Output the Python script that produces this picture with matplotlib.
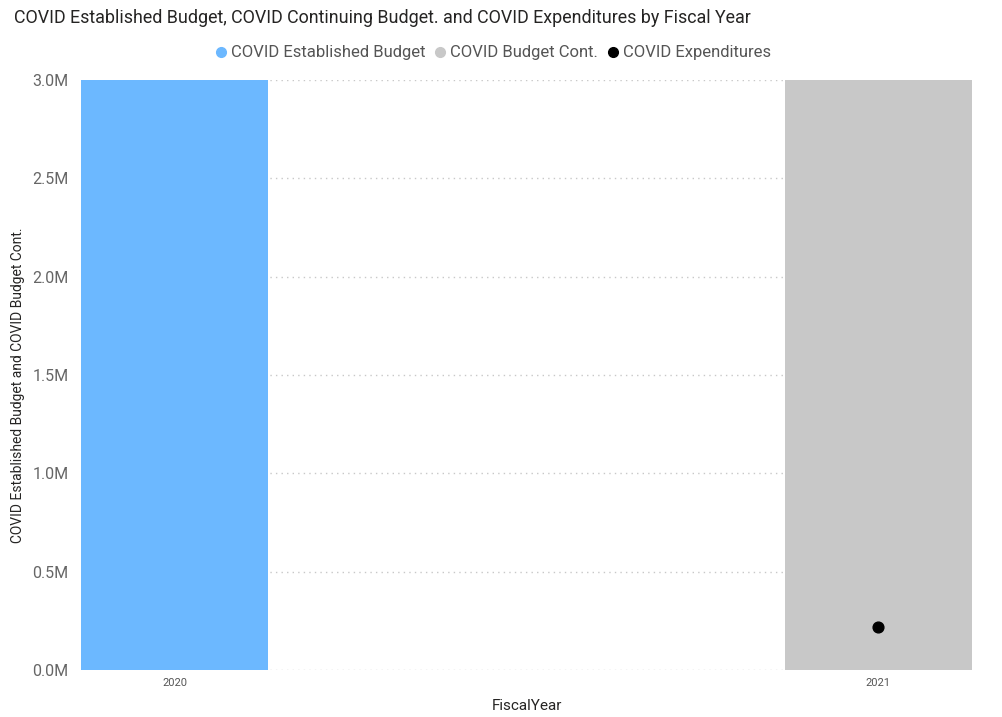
import matplotlib
matplotlib.use("Agg")
import matplotlib.pyplot as plt
from matplotlib.lines import Line2D
from matplotlib.ticker import FuncFormatter

years = ["2020", "2021"]
established_budget = [3.0e6, 0.0]
budget_cont = [0.0, 3.0e6]
expenditures = [None, 0.22e6]

plt.rcParams['font.family'] = ['Roboto', 'DejaVu Sans']

fig = plt.figure(figsize=(10.02, 7.17), dpi=100)
W, H = 1002, 717
ax = fig.add_axes([81 / W, (H - 670) / H, (972 - 81) / W, (670 - 80) / H])

x = list(range(len(years)))
bw = 0.266
ax.bar(x, established_budget, width=bw, color="#6CB8FF", zorder=2)
ax.bar(x, budget_cont, width=bw, color="#C8C8C8", zorder=2)
ex_x = [i for i, v in enumerate(expenditures) if v is not None]
ex_y = [v for v in expenditures if v is not None]
ax.scatter(ex_x, ex_y, s=60, color="black", zorder=3)

ax.set_xlim(-bw / 2, len(years) - 1 + bw / 2)
ax.set_ylim(0, 3.0e6)
ax.set_yticks([0, 0.5e6, 1.0e6, 1.5e6, 2.0e6, 2.5e6, 3.0e6])
ax.yaxis.set_major_formatter(FuncFormatter(lambda v, p: f"{v/1e6:.1f}M"))
ax.set_xticks(x)
ax.set_xticklabels(years)
ax.grid(axis="y", linestyle=(0, (1, 3)), color="#C8C8C8", linewidth=1, zorder=1)
for s in ax.spines.values():
    s.set_visible(False)
ax.tick_params(axis="y", length=0, labelsize=11.5, labelcolor="#666666", pad=9)
ax.tick_params(axis="x", length=0, labelsize=8, labelcolor="#555555", pad=6)

ax.set_xlabel("FiscalYear", fontsize=11, color="#252423", labelpad=8)
fig.text(18 / W, (H - 385) / H, "COVID Established Budget and COVID Budget Cont.",
         rotation=90, va="center", ha="center", fontsize=10, color="#252423")

fig.text(14 / W, 1 - 18 / H, "COVID Established Budget, COVID Continuing Budget. and COVID Expenditures by Fiscal Year",
         fontsize=12.9, color="#252423", va="center", ha="left")

handles = [
    Line2D([], [], marker="o", linestyle="", color="#6CB8FF", markersize=7),
    Line2D([], [], marker="o", linestyle="", color="#C8C8C8", markersize=7),
    Line2D([], [], marker="o", linestyle="", color="black", markersize=7),
]
labels = ["COVID Established Budget", "COVID Budget Cont.", "COVID Expenditures"]
leg = fig.legend(handles, labels, loc="center", bbox_to_anchor=(492 / W, 1 - 53 / H),
                 ncol=3, frameon=False, fontsize=12, handletextpad=0.1,
                 columnspacing=0.4, handlelength=1.0, labelcolor="#555555")

fig.savefig("out.png", dpi=100, facecolor="white")
